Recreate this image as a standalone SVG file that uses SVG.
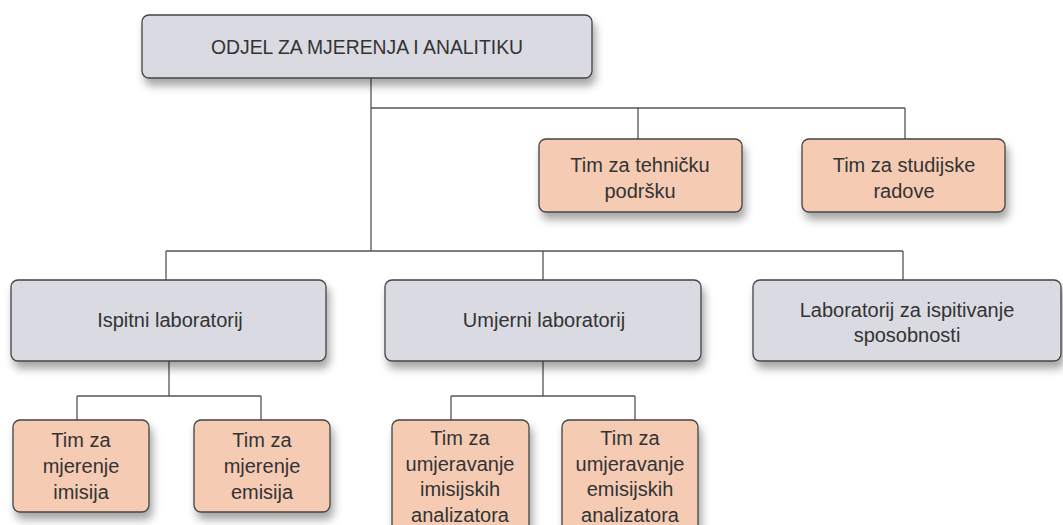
<svg xmlns="http://www.w3.org/2000/svg" width="1063" height="525" viewBox="0 0 1063 525">
<defs>
<filter id="sh" x="-10%" y="-20%" width="130%" height="160%">
<feDropShadow dx="3" dy="7" stdDeviation="4" flood-color="#000" flood-opacity="0.35"/>
</filter>
</defs>
<style>
.g{fill:#d9dae2;stroke:#444;stroke-width:1.3}
.p{fill:#f5cbb4;stroke:#444;stroke-width:1.3}
.t{font-family:"Liberation Sans",Arial,sans-serif;font-size:20px;fill:#333;text-anchor:middle}
.c{fill:none;stroke:#555;stroke-width:1.3}
</style>
<rect width="1063" height="525" fill="#fff"/>
<g id="connectors">
<path class="c" d="M371 78V251M371 108H905M638 108V139M905 108V139"/>
<path class="c" d="M166 251H903M166 251V280M543 251V280M903 251V280"/>
<path class="c" d="M169 361V396M77 396H261M77 396V420M261 396V420"/>
<path class="c" d="M543 361V396M451 396H635M451 396V420M635 396V420"/>
</g>
<g id="n0"><rect class="g" filter="url(#sh)" x="142" y="15" width="450" height="63" rx="7"/>
<text class="t" x="367" y="54" font-size="19" textLength="312" lengthAdjust="spacingAndGlyphs">ODJEL ZA MJERENJA I ANALITIKU</text></g>
<g id="n1"><rect class="p" filter="url(#sh)" x="539" y="139" width="203" height="73" rx="7"/>
<text class="t" x="640" y="172">Tim za tehničku</text><text class="t" x="640" y="198">podršku</text></g>
<g id="n2"><rect class="p" filter="url(#sh)" x="802" y="139" width="203" height="73" rx="7"/>
<text class="t" x="904" y="172">Tim za studijske</text><text class="t" x="904" y="198">radove</text></g>
<g id="n3"><rect class="g" filter="url(#sh)" x="11" y="280" width="315" height="81" rx="7"/>
<text class="t" x="170" y="327">Ispitni laboratorij</text></g>
<g id="n4"><rect class="g" filter="url(#sh)" x="385" y="280" width="316" height="81" rx="7"/>
<text class="t" x="544" y="327">Umjerni laboratorij</text></g>
<g id="n5"><rect class="g" filter="url(#sh)" x="753" y="280" width="308" height="81" rx="7"/>
<text class="t" x="907" y="317">Laboratorij za ispitivanje</text><text class="t" x="907" y="342">sposobnosti</text></g>
<g id="n6"><rect class="p" filter="url(#sh)" x="13" y="420" width="136" height="92" rx="7"/>
<text class="t" x="81" y="447">Tim za</text><text class="t" x="81" y="473">mjerenje</text><text class="t" x="81" y="499">imisija</text></g>
<g id="n7"><rect class="p" filter="url(#sh)" x="194" y="420" width="136" height="92" rx="7"/>
<text class="t" x="262" y="447">Tim za</text><text class="t" x="262" y="473">mjerenje</text><text class="t" x="262" y="499">emisija</text></g>
<g id="n8"><rect class="p" filter="url(#sh)" x="392" y="420" width="137" height="115" rx="7"/>
<text class="t" x="460" y="445">Tim za</text><text class="t" x="460" y="471">umjeravanje</text><text class="t" x="460" y="496">imisijskih</text><text class="t" x="460" y="522">analizatora</text></g>
<g id="n9"><rect class="p" filter="url(#sh)" x="562" y="420" width="136" height="115" rx="7"/>
<text class="t" x="630" y="445">Tim za</text><text class="t" x="630" y="471">umjeravanje</text><text class="t" x="630" y="496">emisijskih</text><text class="t" x="630" y="522">analizatora</text></g>
</svg>
